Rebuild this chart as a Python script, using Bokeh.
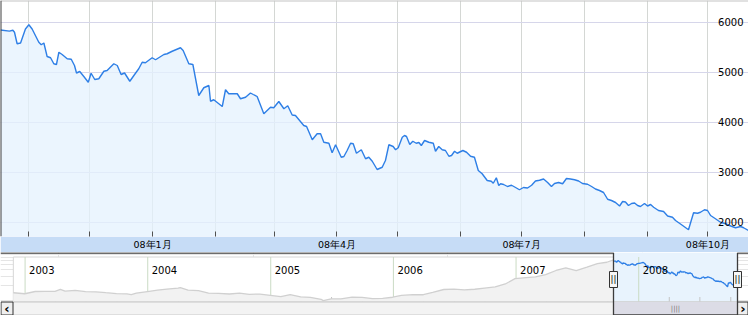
import math
import numpy as np
import pandas as pd
from bokeh.plotting import figure
from bokeh.layouts import column
from bokeh.models import Range1d, FixedTicker, Grid, Span
from bokeh.core.properties import value
from bokeh.embed import file_html
from bokeh.resources import INLINE

# ---------------- data ----------------
BASE_DATE = "2007-10-18"
main_days = [0, 4.4, 6.1, 6.9, 8.2, 9.9, 12.3, 14.0, 15.6, 18.9,
             20.1, 21.4, 23.0, 24.7, 26.3, 27.6, 28.8, 30.4, 32.9, 34.9,
             36.5, 37.5, 39.1, 41.1, 43.3, 44.7, 46.5, 48.5, 51.0, 52.6,
             55.9, 57.6, 59.5, 61.2, 63.8, 65.8, 68.2, 69.9, 71.5, 74.8,
             76.5, 80.6, 82.2, 84.7, 88.8, 90.1, 92.9, 94.9, 97.8, 100.3,
             102.8, 103.6, 105.2, 109.4, 111.0, 112.6, 116.8, 118.4, 120.9, 123.3,
             124.7, 126.6, 129.9, 133.2, 134.8, 137.3, 139.8, 141.7, 143.9, 145.5,
             149.6, 151.0, 153.8, 156.2, 157.9, 159.5, 162.0, 163.6, 165.3, 168.1,
             169.4, 171.0, 172.7, 174.0, 175.6, 178.0, 180.1, 181.7, 183.4, 185.8,
             188.3, 189.9, 191.6, 193.7, 194.9, 196.2, 198.2, 199.3, 200.3, 201.9,
             203.4, 205.1, 206.4, 207.6, 209.2, 211.3, 213.5, 214.6, 216.2, 217.9,
             219.5, 221.2, 222.5, 224.0, 225.3, 228.1, 229.9, 231.9, 233.8, 235.7,
             237.6, 240.1, 242.1, 243.1, 244.6, 245.8, 246.7, 248.2, 250.1, 252.1,
             254.1, 256.0, 258.0, 260.0, 262.0, 263.9, 265.9, 267.9, 269.9, 271.8,
             273.3, 275.3, 277.3, 279.2, 281.2, 283.2, 285.2, 287.1, 289.6, 291.6,
             293.5, 295.5, 297.5, 299.5, 301.4, 303.4, 305.4, 306.9, 308.3, 309.8,
             311.3, 312.8, 314.3, 315.7, 317.7, 319.2, 320.7, 322.2, 324.6, 327.1,
             329.1, 331.5, 333.0, 336.5, 339.4, 341.9, 343.9, 345.3, 347.3, 348.8,
             350.3, 352.7, 355.2, 357.7, 359.6, 362.6, 365.1, 366.6, 369.0]
main_values = [5850, 5827, 5845, 5805, 5575, 5590, 5870, 5955, 5870, 5605,
               5555, 5590, 5320, 5295, 5175, 5160, 5405, 5360, 5275, 5265,
               5140, 4990, 5020, 4920, 4805, 4985, 4860, 4875, 5025, 5040,
               5175, 5140, 4960, 4990, 4825, 4940, 5075, 5205, 5195, 5295,
               5255, 5360, 5375, 5425, 5495, 5440, 5175, 5160, 4540, 4695,
               4740, 4425, 4455, 4320, 4655, 4575, 4575, 4475, 4505, 4590,
               4560, 4520, 4175, 4305, 4295, 4420, 4275, 4335, 4150, 4140,
               3940, 3920, 3655, 3775, 3775, 3605, 3585, 3395, 3555, 3305,
               3320, 3440, 3585, 3575, 3385, 3455, 3275, 3305, 3225, 3060,
               3105, 3240, 3555, 3520, 3455, 3495, 3705, 3740, 3720, 3560,
               3625, 3585, 3600, 3540, 3640, 3605, 3585, 3425, 3520, 3455,
               3440, 3325, 3340, 3425, 3385, 3440, 3405, 3325, 3305, 3040,
               2975, 2840, 2825, 2785, 2895, 2740, 2775, 2760, 2720, 2745,
               2700, 2655, 2700, 2690, 2745, 2830, 2845, 2870, 2800, 2720,
               2780, 2800, 2775, 2880, 2870, 2855, 2830, 2780, 2765, 2720,
               2670, 2640, 2600, 2465, 2440, 2400, 2330, 2420, 2410, 2340,
               2380, 2390, 2340, 2320, 2380, 2330, 2360, 2305, 2240, 2220,
               2130, 2105, 2040, 1940, 1855, 2195, 2185, 2205, 2255, 2240,
               2140, 2075, 2005, 1975, 1940, 1895, 1920, 1895, 1840]

month_ticks = ["2007-11-01", "2007-12-01", "2008-01-01", "2008-02-01", "2008-03-01",
               "2008-04-01", "2008-05-01", "2008-06-01", "2008-07-01", "2008-08-01",
               "2008-09-01", "2008-10-01"]
month_labels = ["", "", "08年1月", "", "", "08年4月", "", "", "08年7月", "", "", "08年10月"]

y_ticks = [2000, 3000, 4000, 5000, 6000]
y_labels = ["2000", "3000", "4000", "5000", "6000"]

nav_dates = ["2002-11-27", "2002-12-31", "2003-01-31", "2003-02-28", "2003-03-31",
             "2003-04-16", "2003-04-30", "2003-05-30", "2003-06-30", "2003-07-31",
             "2003-08-29", "2003-09-30", "2003-10-31", "2003-11-13", "2003-11-28",
             "2003-12-31", "2004-01-30", "2004-02-27", "2004-03-31", "2004-04-07",
             "2004-04-30", "2004-05-31", "2004-06-30", "2004-07-30", "2004-08-31",
             "2004-09-30", "2004-10-29", "2004-11-30", "2004-12-31", "2005-01-31",
             "2005-02-28", "2005-03-31", "2005-04-29", "2005-05-31", "2005-06-06",
             "2005-06-30", "2005-07-29", "2005-08-31", "2005-09-30", "2005-10-31",
             "2005-11-30", "2005-12-30", "2006-01-25", "2006-02-28", "2006-03-31",
             "2006-04-28", "2006-05-31", "2006-06-30", "2006-07-31", "2006-08-31",
             "2006-09-29", "2006-10-31", "2006-11-30", "2006-12-29", "2007-01-31",
             "2007-02-28", "2007-03-30", "2007-04-30", "2007-05-29", "2007-06-29",
             "2007-07-31", "2007-08-31", "2007-09-28", "2007-10-16"]
nav_values = [1420, 1357, 1500, 1511, 1510, 1649, 1521, 1576, 1487, 1476,
              1421, 1367, 1348, 1307, 1397, 1497, 1590, 1675, 1742, 1783,
              1595, 1555, 1400, 1386, 1342, 1396, 1320, 1340, 1266, 1191,
              1306, 1181, 1159, 1060, 998, 1080, 1083, 1162, 1155, 1092,
              1099, 1161, 1258, 1299, 1298, 1440, 1641, 1672, 1612, 1658,
              1752, 1837, 2099, 2675, 2786, 2881, 3183, 3841, 4335, 3820,
              4471, 5218, 5552, 6092]

year_ticks = ["2003-01-01", "2004-01-01", "2005-01-01", "2006-01-01", "2007-01-01", "2008-01-01"]
year_labels = ["2003", "2004", "2005", "2006", "2007", "2008"]

# ---------------- helpers ----------------
DAY_MS = 86400000.0


def ms(d):
    return pd.Timestamp(d).value / 1e6


base_ms = ms(BASE_DATE)
main_x = [base_ms + d * DAY_MS for d in main_days]
SEL_START, SEL_END = main_x[0], main_x[-1]
month_ms = [int(ms(d)) for d in month_ticks]
nav_x = [ms(d) for d in nav_dates]
year_ms = [ms(d) for d in year_ticks]
quarter_ms = [ms(f"{y}-{m:02d}-01") for y in range(2003, 2009) for m in (4, 7, 10)]

FONT = "DejaVu Sans"
LINE_BLUE = "#2e7fe6"

# ---------------- main chart ----------------
Y_MIN, Y_MAX = 1720, 6440
p = figure(width=748, height=252, x_axis_type="datetime", y_axis_location=None,
           x_range=Range1d(SEL_START, SEL_END), y_range=Range1d(Y_MIN, Y_MAX),
           output_backend="svg", toolbar_location=None,
           min_border_left=0, min_border_right=0, min_border_top=0, min_border_bottom=16)
p.background_fill_color = "white"
p.border_fill_color = "#c6dcf6"
p.outline_line_color = None

xt = FixedTicker(ticks=month_ms)
ax = p.xaxis[0]
ax.ticker = xt
ax.major_label_overrides = dict(zip(month_ms, month_labels))
ax.axis_line_color = None
ax.major_tick_in = 5
ax.major_tick_out = 0
ax.major_tick_line_color = "#505050"
ax.minor_tick_line_color = None
ax.major_label_standoff = 2
ax.major_label_text_font = FONT
ax.major_label_text_font_size = "9.5px"
ax.major_label_text_color = "#000000"
p.xgrid.ticker = xt
p.xgrid.grid_line_color = "#d4d7d4"

p.add_layout(Grid(dimension=1, ticker=FixedTicker(ticks=y_ticks), grid_line_color="#d6d6ea"))

p.varea(x=main_x, y1=Y_MIN, y2=main_values, fill_color="#e4f2fe", fill_alpha=0.75)
p.line(main_x, main_values, line_color=LINE_BLUE, line_width=1.4)

p.text(x=[SEL_END] * len(y_ticks), y=y_ticks, text=y_labels, text_align="right",
       text_baseline="alphabetic", x_offset=-5, y_offset=-1,
       text_font=value(FONT), text_font_size="10px", text_color="#000000")

p.add_layout(Span(location=Y_MAX, dimension="width", line_color="#c4c4c4", line_width=2))
p.add_layout(Span(location=SEL_START, dimension="height", line_color="#404040", line_width=2))

# ---------------- navigator ----------------
NAV_W, NAV_H = 748, 63
WIN_L, WIN_R = 613, 737          # window edges in px
ppd = (WIN_R - WIN_L) / ((SEL_END - SEL_START) / DAY_MS)
nav_start = SEL_START - WIN_L / ppd * DAY_MS
nav_end = nav_start + NAV_W / ppd * DAY_MS
NAV_YLO, NAV_YHI = 513, 8584


def xpx(px):
    return nav_start + px / ppd * DAY_MS


def ypx(px):
    lo, hi = math.log10(NAV_YLO), math.log10(NAV_YHI)
    return 10 ** (hi - px / NAV_H * (hi - lo))


n = figure(width=NAV_W, height=NAV_H, x_axis_location=None, y_axis_location=None,
           y_axis_type="log", x_range=Range1d(nav_start, nav_end),
           y_range=Range1d(NAV_YLO, NAV_YHI), output_backend="svg",
           toolbar_location=None, min_border=0)
n.background_fill_color = "white"
n.border_fill_color = "white"
n.outline_line_color = None

# panel
n.quad(left=[nav_x[0]], right=[SEL_END], bottom=[ypx(49)], top=[ypx(4.5)],
       fill_color="white", line_color="#d6d6d6", line_width=1)
# selection window fill
n.quad(left=[SEL_START], right=[SEL_END], bottom=[ypx(49)], top=[ypx(0)],
       fill_color="#e8f3fd", line_color=None)
# year lines and quarter ticks
n.segment(x0=year_ms, x1=year_ms, y0=[ypx(4.5)] * len(year_ms), y1=[ypx(49)] * len(year_ms),
          line_color="#cadbc4", line_width=1)
n.segment(x0=quarter_ms, x1=quarter_ms, y0=[ypx(44.5)] * len(quarter_ms),
          y1=[ypx(49)] * len(quarter_ms), line_color="#c4c4c4", line_width=1)
# history
hist_x = nav_x + [SEL_START]
hist_y = nav_values + [main_values[0]]
n.varea(x=hist_x, y1=ypx(49), y2=hist_y, fill_color="#f2f2f2")
n.line(hist_x, hist_y, line_color="#d0d0d0", line_width=1.3)
# selected period
n.line(main_x, main_values, line_color=LINE_BLUE, line_width=1.3)
# year labels
n.text(x=year_ms, y=[ypx(17)] * len(year_ms), text=year_labels, x_offset=4,
       text_align="left", text_baseline="alphabetic", text_font=value(FONT),
       text_font_size="10px", text_color="#000000")

# scrollbar
n.quad(left=[xpx(12)], right=[SEL_END], bottom=[ypx(62.5)], top=[ypx(49.5)],
       fill_color="#f3f3f3", line_color="#c8c8c8")
n.quad(left=[xpx(0.5), xpx(737)], right=[xpx(12.5), xpx(747.5)],
       bottom=[ypx(62.5)] * 2, top=[ypx(49.5)] * 2,
       fill_color="#efefef", line_color="#303030", line_width=1)
n.text(x=[xpx(6.5), xpx(742.5)], y=[ypx(56)] * 2, text=["‹", "›"], text_align="center",
       text_baseline="middle", text_font=value(FONT), text_font_size="13px",
       text_font_style="bold", text_color="#000000")
n.quad(left=[SEL_START], right=[SEL_END], bottom=[ypx(62.5)], top=[ypx(49.5)],
       fill_color="#dcdce6", line_color=None)
n.text(x=[(SEL_START + SEL_END) / 2], y=[ypx(56)], text=["||||"], text_align="center",
       text_baseline="middle", text_font=value(FONT), text_font_size="7px",
       text_color="#7a7a7a")
# tab outline
n.line(x=[xpx(0), SEL_START, SEL_START, SEL_END, SEL_END, xpx(748)],
       y=[ypx(0.5), ypx(0.5), ypx(62.5), ypx(62.5), ypx(0.5), ypx(0.5)],
       line_color="#3c3c3c", line_width=1.3)
# handles
n.rect(x=[SEL_START, SEL_END], y=[ypx(27)] * 2, width=8, height=16,
       width_units="screen", height_units="screen",
       fill_color="#f6f6f6", line_color="#333333", line_width=1)
n.text(x=[SEL_START, SEL_END], y=[ypx(27)] * 2, text=["||", "||"], text_align="center",
       text_baseline="middle", text_font=value(FONT), text_font_size="8px",
       text_font_style="bold", text_color="#333333")

layout = column(p, n, spacing=0)
open("out.html", "w").write(file_html(layout, INLINE))
